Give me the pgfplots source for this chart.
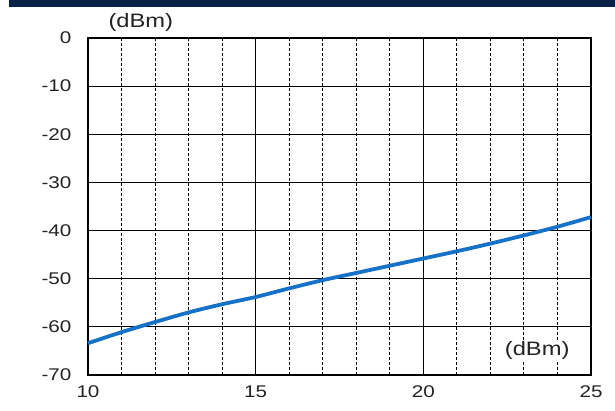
\documentclass[border=0pt]{standalone}
\usepackage{pgfplots}
\pgfplotsset{compat=1.18}
\usepackage{fontspec}
\setmainfont{Liberation Sans}[FakeStretch=1.22]
\definecolor{navy}{RGB}{10,33,70}
\definecolor{lineblue}{RGB}{22,114,200}
\definecolor{txt}{RGB}{35,35,35}
\begin{document}
\begin{tikzpicture}
\path[use as bounding box] (0,0) rectangle (615bp,411bp);
\fill[navy] (9bp,404bp) rectangle (615bp,411bp);
\begin{axis}[
  at={(88bp,36bp)}, anchor=south west,
  scale only axis, width=503bp, height=337bp,
  xmin=10, xmax=25, ymin=-70, ymax=0,
  xtick={10,15,20,25},
  minor xtick={11,12,13,14,16,17,18,19,21,22,23,24},
  ytick={-70,-60,-50,-40,-30,-20,-10,0},
  grid=both,
  major grid style={black, line width=1.1pt},
  minor grid style={black, line width=1.0pt, dash pattern=on 3pt off 2pt},
  axis line style={black, line width=1.5pt},
  tick style={draw=none},
  /pgf/number format/assume math mode=true,
  ticklabel style={font=\fontsize{17}{19}\selectfont, text=txt},
  yticklabel style={xshift=-13bp},
  xticklabel style={yshift=-7bp},
  clip=false,
]
\addplot[lineblue, line width=3.8pt, smooth] coordinates {
(10,-63.4) (11,-61.1) (12,-59.0) (13,-57.0) (14,-55.3) (15,-53.8)
(16,-52.0) (17,-50.3) (18,-48.8) (19,-47.3) (20,-45.8) (21,-44.3)
(22,-42.7) (23,-41.0) (24,-39.2) (25,-37.2)};
\node[font=\fontsize{19.5}{21}\selectfont, text=txt] at (rel axis cs:0.105,1.045) {(dBm)};
\node[font=\fontsize{19.5}{21}\selectfont, text=txt, fill=white, inner sep=1pt] at (rel axis cs:0.893,0.074) {(dBm)};
\end{axis}
\end{tikzpicture}
\end{document}
